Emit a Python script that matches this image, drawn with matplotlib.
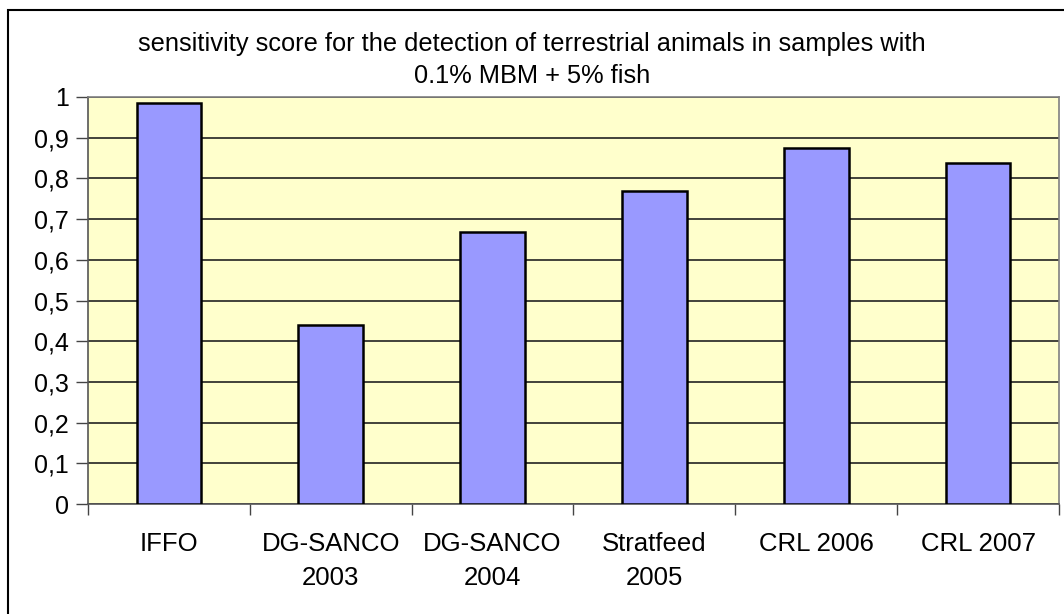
import matplotlib
matplotlib.use("Agg")
import matplotlib.pyplot as plt
from matplotlib.patches import Rectangle
import numpy as np

# data
categories = ["IFFO", "DG-SANCO\n2003", "DG-SANCO\n2004", "Stratfeed\n2005", "CRL 2006", "CRL 2007"]
scores = [0.985, 0.44, 0.668, 0.768, 0.875, 0.837]
yticks = [0, 0.1, 0.2, 0.3, 0.4, 0.5, 0.6, 0.7, 0.8, 0.9, 1]
ytick_labels = ["0", "0,1", "0,2", "0,3", "0,4", "0,5", "0,6", "0,7", "0,8", "0,9", "1"]
title = "sensitivity score for the detection of terrestrial animals in samples with\n0.1% MBM + 5% fish"

plt.rcParams['font.family'] = ['Liberation Sans', 'DejaVu Sans']

W, H = 1064, 614
fig = plt.figure(figsize=(W / 100, H / 100), dpi=100)
fig.patch.set_facecolor("white")

# plot area in pixels: left 88, right 1059, top 97, bottom 504
ax = fig.add_axes([88 / W, 1 - 504 / H, (1059 - 88) / W, (504 - 97) / H])
ax.set_facecolor("#FFFFCC")

x = np.arange(len(categories))
ax.bar(x, scores, width=0.4, color="#9999FF", edgecolor="black", linewidth=1.8, zorder=3)

ax.set_xlim(-0.5, len(categories) - 0.5)
ax.set_ylim(0, 1)

# gridlines
ax.set_yticks(yticks)
ax.set_yticklabels(ytick_labels, fontsize=18)
ax.yaxis.grid(True, color="#222222", linewidth=1.2, zorder=1)
ax.set_axisbelow(True)

# category labels at centers, tick marks at boundaries
ax.set_xticks(x)
ax.set_xticklabels(categories, fontsize=18.5, linespacing=1.55)
ax.tick_params(axis="x", which="major", length=0, pad=20)
ax.set_xticks(np.arange(-0.5, len(categories)), minor=True)
ax.tick_params(axis="x", which="minor", length=8, width=1, color="#444444", direction="out")
ax.tick_params(axis="y", length=9, width=1, color="#444444", direction="out", pad=5)

for s in ["top", "right"]:
    ax.spines[s].set_color("#808080")
    ax.spines[s].set_linewidth(1.2)
for s in ["left", "bottom"]:
    ax.spines[s].set_color("#555555")
    ax.spines[s].set_linewidth(1.2)

fig.text(0.5, 1 - 60 / H, title, ha="center", va="center", fontsize=18.3, linespacing=1.4)

# outer chart border, running off the image to the right and bottom
fig.add_artist(Rectangle((7.5 / W, -0.1), 1.2, 1.1 - 10 / H, transform=fig.transFigure,
                         fill=False, edgecolor="black", linewidth=1.5, clip_on=False))

fig.savefig("out.png", dpi=100)
